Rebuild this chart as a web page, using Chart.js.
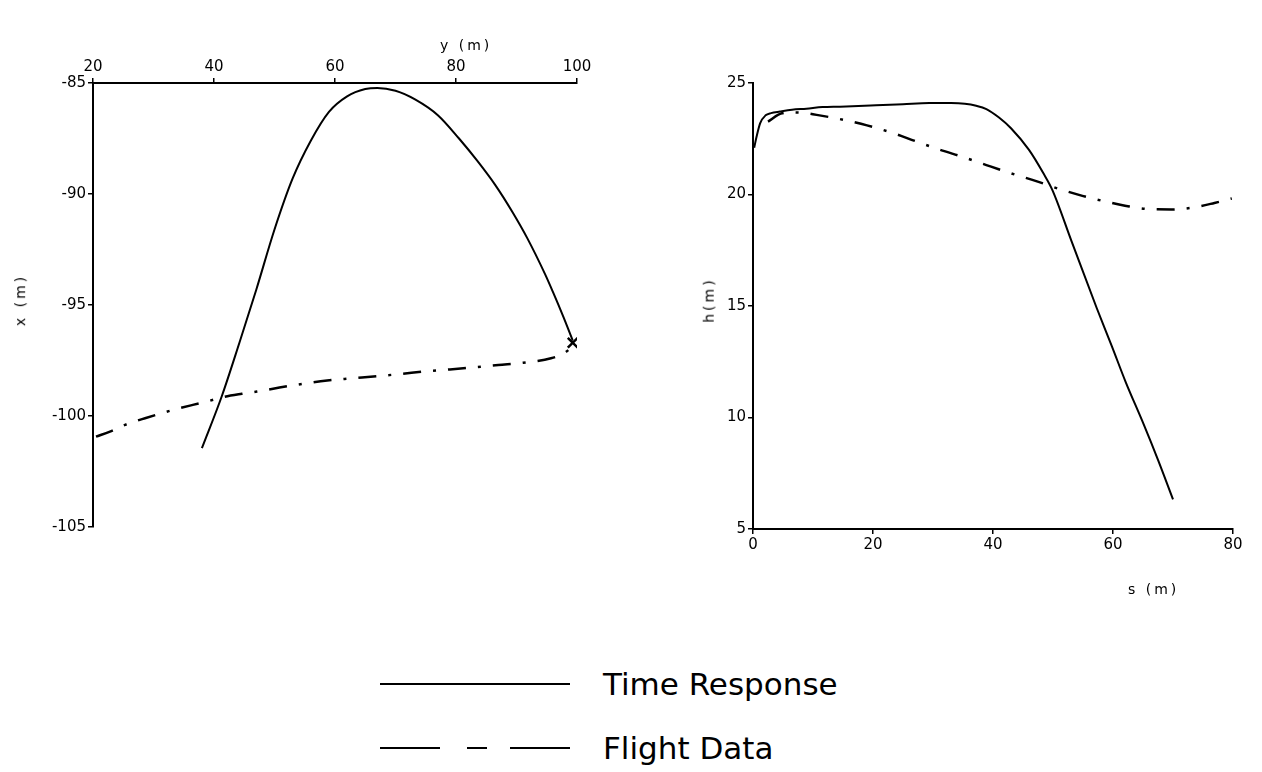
<!DOCTYPE html>
<html>
<head>
<meta charset="utf-8">
<script src="https://cdn.jsdelivr.net/npm/chart.js@4.4.1/dist/chart.umd.min.js"></script>
<style>
  html, body { margin: 0; padding: 0; background: #fff; }
  body { width: 1262px; height: 772px; position: relative; overflow: hidden; font-family: "DejaVu Sans", sans-serif; color: #000; }
  .box { position: absolute; top: 0; height: 620px; }
  #leftBox { left: 0; width: 640px; }
  #rightBox { left: 640px; width: 622px; }
  .note { position: absolute; font-size: 14px; letter-spacing: 3px; white-space: nowrap; }
  .rot { transform: rotate(-90deg); transform-origin: center; }
  .legend-row { position: absolute; left: 380px; height: 40px; width: 600px; }
  .legend-row span.txt { position: absolute; left: 223px; top: 0; font-size: 31px; line-height: 40px; }
  .seg { position: absolute; top: 19px; height: 0; border-top: 2px solid #000; }
</style>
</head>
<body>
<div class="box" id="leftBox"><canvas id="pathChart"></canvas></div>
<div class="box" id="rightBox"><canvas id="heightChart"></canvas></div>

<div class="note" style="left:440px; top:37px;">y (m)</div>
<div class="note rot" style="left:-6px; top:292px;">x (m)</div>
<div class="note rot" style="left:686px; top:292px;">h(m)</div>
<div class="note" style="left:1128px; top:581px;">s (m)</div>

<div class="legend-row" style="top:664px;">
  <div class="seg" style="left:0; width:190px;"></div>
  <span class="txt">Time Response</span>
</div>
<div class="legend-row" style="top:728px;">
  <div class="seg" style="left:0; width:60px;"></div>
  <div class="seg" style="left:87px; width:20px;"></div>
  <div class="seg" style="left:130px; width:60px;"></div>
  <span class="txt">Flight Data</span>
</div>

<script>
// left panel: ground track, y (m) across, x (m) down
const pathTimeY = [38.0, 41.3, 44.2, 47.0, 50.0, 53.0, 56.0, 59.0, 62.0, 65.0, 67.0, 70.0, 73.3, 77.0, 80.5, 83.5, 86.5, 89.3, 91.8, 94.7, 96.0, 97.7, 99.3];
const pathTimeX = [-101.45, -99.1, -96.7, -94.3, -91.6, -89.3, -87.6, -86.3, -85.6, -85.27, -85.22, -85.35, -85.75, -86.45, -87.5, -88.5, -89.6, -90.8, -92.0, -93.6, -94.4, -95.5, -96.6];
const pathFlightY = [20.5, 22.8, 25.3, 28.6, 33.2, 36.5, 38.8, 41.5, 44.6, 47.1, 50.2, 53.0, 58.7, 63.0, 67.3, 71.0, 75.2, 79.0, 83.2, 87.0, 91.1, 95.7, 98.0, 99.3];
const pathFlightX = [-100.93, -100.7, -100.4, -100.1, -99.73, -99.5, -99.35, -99.15, -99.0, -98.9, -98.75, -98.62, -98.4, -98.3, -98.2, -98.1, -97.98, -97.9, -97.8, -97.7, -97.6, -97.4, -97.15, -96.85];
const pathEndY = [99.3];
const pathEndX = [-96.7];
const pathYTicks = [20, 40, 60, 80, 100];
const pathXTicks = [-105, -100, -95, -90, -85];

// right panel: height h (m) against distance s (m)
const heightTimeS = [0.2, 0.6, 1.2, 2.1, 3.0, 4.5, 6.5, 8.9, 11.6, 14.5, 20.5, 25.0, 29.4, 33.0, 35.3, 37.2, 38.9, 41.0, 43.0, 46.0, 48.4, 49.9, 53.1, 57.3, 59.8, 62.1, 65.1, 67.5, 70.0];
const heightTimeH = [22.1, 22.6, 23.2, 23.55, 23.65, 23.72, 23.8, 23.85, 23.92, 23.94, 24.0, 24.05, 24.1, 24.1, 24.07, 23.98, 23.83, 23.45, 22.97, 22.0, 20.95, 20.2, 17.9, 14.9, 13.2, 11.6, 9.7, 8.1, 6.33];
const heightFlightS = [2.5, 4.8, 6.5, 8.1, 10.6, 14.5, 19.0, 23.4, 27.0, 31.2, 35.0, 38.9, 43.0, 47.2, 51.0, 54.9, 58.5, 62.0, 66.2, 69.7, 73.9, 76.9, 79.8];
const heightFlightH = [23.27, 23.64, 23.68, 23.67, 23.57, 23.38, 23.1, 22.75, 22.4, 22.0, 21.68, 21.32, 20.95, 20.6, 20.25, 19.94, 19.7, 19.5, 19.34, 19.33, 19.44, 19.62, 19.82];
const heightSTicks = [0, 20, 40, 60, 80];
const heightHTicks = [5, 10, 15, 20, 25];

const toPoints = (xs, ys) => xs.map((v, i) => ({ x: v, y: ys[i] }));

const tickFont = { family: 'DejaVu Sans', size: 15 };
const dashDot = [18, 12, 3, 12];

function axis(extra) {
  return Object.assign({
    type: 'linear',
    grid: { drawOnChartArea: false, drawTicks: true, tickLength: 5, color: '#000', lineWidth: 1.5 },
    border: { display: true, color: '#000', width: 2 },
    ticks: { color: '#000', font: tickFont, maxRotation: 0, padding: 2 }
  }, extra);
}

function fixedTicks(values) {
  return scale => { scale.ticks = values.map(v => ({ value: v })); };
}

Chart.defaults.animation = false;
Chart.defaults.font.family = 'DejaVu Sans';

const lineStyle = { borderColor: '#000', pointRadius: 0, cubicInterpolationMode: 'monotone', fill: false };

// Left panel
new Chart(document.getElementById('pathChart'), {
  type: 'line',
  data: {
    datasets: [Object.assign({
      label: 'Time Response',
      data: toPoints(pathTimeY, pathTimeX),
      borderWidth: 2
    }, lineStyle), Object.assign({
      label: 'Flight Data',
      data: toPoints(pathFlightY, pathFlightX),
      borderWidth: 2.5, borderDash: dashDot
    }, lineStyle), {
      label: 'end',
      data: toPoints(pathEndY, pathEndX),
      showLine: false, pointStyle: 'crossRot', pointRadius: 7, borderColor: '#000', borderWidth: 2.5
    }]
  },
  options: {
    responsive: true,
    maintainAspectRatio: false,
    layout: { padding: { top: 0, left: 0, right: 63, bottom: 93 } },
    plugins: { legend: { display: false }, tooltip: { enabled: false } },
    scales: {
      x: axis({ position: 'top', min: 20, max: 100, afterBuildTicks: fixedTicks(pathYTicks), afterFit: s => { s.height = 83; } }),
      y: axis({ position: 'left', min: -105, max: -85, afterBuildTicks: fixedTicks(pathXTicks), afterFit: s => { s.width = 93; } })
    }
  }
});

// Right panel
new Chart(document.getElementById('heightChart'), {
  type: 'line',
  data: {
    datasets: [Object.assign({
      label: 'Time Response',
      data: toPoints(heightTimeS, heightTimeH),
      borderWidth: 2
    }, lineStyle), Object.assign({
      label: 'Flight Data',
      data: toPoints(heightFlightS, heightFlightH),
      borderWidth: 2.5, borderDash: dashDot
    }, lineStyle)]
  },
  options: {
    responsive: true,
    maintainAspectRatio: false,
    layout: { padding: { top: 83, left: 0, right: 29, bottom: 0 } },
    plugins: { legend: { display: false }, tooltip: { enabled: false } },
    scales: {
      x: axis({ position: 'bottom', min: 0, max: 80, afterBuildTicks: fixedTicks(heightSTicks), afterFit: s => { s.height = 91; } }),
      y: axis({ position: 'left', min: 5, max: 25, afterBuildTicks: fixedTicks(heightHTicks), afterFit: s => { s.width = 113; } })
    }
  }
});
</script>
</body>
</html>
